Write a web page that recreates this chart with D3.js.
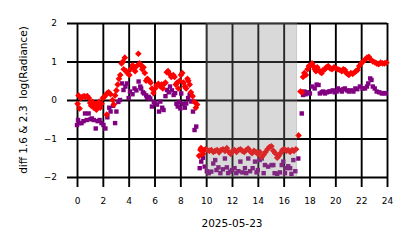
<!DOCTYPE html>
<html>
<head>
<meta charset="utf-8">
<script src="https://cdn.jsdelivr.net/npm/d3@7"></script>
<style>
  body { margin: 0; background: #fff; }
  text { font-family: "DejaVu Sans", sans-serif; }
</style>
</head>
<body>
<div id="chart"></div>
<script>
const xTicks = [0, 2, 4, 6, 8, 10, 12, 14, 16, 18, 20, 22, 24];
const yTicks = [-2, -1, 0, 1, 2];
const dateLabel = "2025-05-23";
const yLabel = "diff 1.6 & 2.3  log(Radiance)";
const shadeSpan = [10, 17];

// red diamonds: hour of day, value
const redHour = [0.05,0.12,0.2,0.3,0.42,0.55,0.68,0.8,0.92,1.02,1.1,1.2,1.3,1.4,1.5,1.6,1.7,1.8,1.9,2.0,2.1,2.2,2.3,2.35,2.45,2.6,2.75,2.85,2.95,3.05,3.15,3.25,3.35,3.45,3.55,3.62,3.7,3.8,3.9,4.05,4.15,4.3,4.4,4.5,4.62,4.75,4.85,4.95,5.05,5.15,5.25,5.35,5.45,5.6,5.7,5.8,5.92,6.05,6.15,6.3,6.45,6.55,6.65,6.75,6.85,6.95,7.05,7.15,7.3,7.45,7.55,7.65,7.75,7.85,7.95,8.05,8.15,8.25,8.35,8.45,8.55,8.62,8.72,8.82,8.95,9.1,9.2,9.3,9.45,9.55,9.6,9.75,9.85,9.95,10.1,10.25,10.4,10.55,10.7,10.85,11.0,11.15,11.3,11.45,11.6,11.75,11.9,12.05,12.2,12.35,12.5,12.65,12.8,12.95,13.1,13.25,13.4,13.55,13.7,13.85,14.0,14.15,14.3,14.45,14.6,14.75,14.9,15.05,15.2,15.35,15.5,15.62,15.75,15.9,16.05,16.2,16.35,16.5,16.65,16.8,16.95,17.15,17.3,17.42,17.5,17.6,17.72,17.85,17.95,18.1,18.2,18.3,18.4,18.5,18.6,18.72,18.85,18.95,19.05,19.2,19.3,19.45,19.6,19.75,19.9,20.05,20.2,20.35,20.5,20.62,20.75,20.85,20.95,21.05,21.2,21.35,21.5,21.6,21.72,21.85,22.0,22.15,22.3,22.45,22.6,22.75,22.9,23.05,23.2,23.35,23.5,23.65,23.8,23.95];
const redVal = [-0.1,0.12,-0.22,0.05,0.08,0.1,0.08,0.1,0.05,-0.08,-0.15,-0.05,-0.2,-0.1,-0.25,-0.15,-0.05,-0.2,-0.1,0.05,0.08,0.12,-0.38,0.18,0.2,0.15,0.0,-0.12,0.12,0.25,0.4,0.55,0.65,0.95,1.0,0.8,1.1,0.75,0.7,0.65,0.8,0.9,0.85,0.75,0.88,1.2,0.95,0.9,0.8,0.85,0.7,0.5,0.55,0.5,0.45,0.3,0.18,0.3,0.38,0.42,0.35,0.4,0.3,0.42,0.45,0.72,0.75,0.68,0.6,0.65,0.6,0.4,0.45,0.3,0.5,0.65,0.7,0.45,0.35,0.3,0.55,0.5,0.4,0.2,0.1,-0.05,-0.2,-0.12,-1.45,-1.3,-1.25,-1.4,-1.3,-1.28,-1.3,-1.32,-1.3,-1.35,-1.32,-1.3,-1.36,-1.3,-1.28,-1.32,-1.25,-1.35,-1.4,-1.32,-1.3,-1.35,-1.3,-1.28,-1.32,-1.35,-1.3,-1.26,-1.33,-1.38,-1.32,-1.35,-1.4,-1.35,-1.48,-1.42,-1.35,-1.28,-1.22,-1.2,-1.32,-1.38,-1.5,-1.45,-1.38,-1.3,-1.28,-1.32,-1.3,-1.35,-1.3,-1.32,-1.28,-0.92,0.22,0.2,0.6,0.7,0.65,0.8,0.88,0.9,0.95,0.88,0.8,0.75,0.85,0.78,0.72,0.7,0.78,0.8,0.85,0.88,0.82,0.8,0.85,0.82,0.8,0.78,0.75,0.8,0.78,0.7,0.68,0.65,0.7,0.68,0.72,0.75,0.78,0.88,0.95,1.0,1.05,1.1,1.12,1.05,1.0,0.98,0.95,0.93,0.97,0.95,0.95,0.97];

// purple squares: hour of day, value
const purpleHour = [0.0,0.08,0.2,0.35,0.5,0.62,0.75,0.9,1.05,1.15,1.3,1.45,1.6,1.75,1.9,2.05,2.2,2.35,2.5,2.6,2.8,2.95,3.05,3.2,3.33,3.48,3.6,3.75,3.87,4.0,4.1,4.3,4.45,4.6,4.77,4.9,4.97,5.1,5.2,5.35,5.42,5.55,5.67,5.8,5.95,6.06,6.2,6.35,6.45,6.6,6.7,6.85,6.97,7.1,7.2,7.35,7.48,7.6,7.7,7.8,7.9,8.0,8.07,8.2,8.35,8.46,8.6,8.72,8.85,8.98,9.1,9.23,9.5,9.62,9.75,9.88,10.05,10.2,10.4,10.55,10.7,10.8,10.95,11.1,11.3,11.45,11.6,11.7,11.85,12.0,12.2,12.33,12.5,12.65,12.8,13.0,13.1,13.26,13.4,13.6,13.78,13.9,14.0,14.14,14.3,14.45,14.55,14.8,15.07,15.2,15.3,15.5,15.7,15.85,15.97,16.1,16.2,16.35,16.5,16.6,16.75,16.9,17.13,17.4,17.5,17.6,17.7,17.85,18.03,18.2,18.4,18.55,18.7,18.8,18.95,19.05,19.2,19.35,19.5,19.6,19.8,19.95,20.1,20.2,20.35,20.5,20.62,20.74,20.9,21.05,21.2,21.4,21.55,21.7,21.9,22.1,22.3,22.45,22.55,22.7,22.8,22.9,23.05,23.2,23.4,23.6,23.75,23.9];
const purpleVal = [-0.65,-0.52,-0.6,-0.6,-0.55,-0.35,-0.52,-0.35,-0.5,-0.48,-0.52,-0.74,-0.55,-0.52,-0.6,-0.65,-0.74,-0.45,-0.2,-0.3,-0.15,-0.6,-0.3,-0.05,0.0,0.43,0.26,0.35,0.43,0.05,0.22,0.15,0.3,0.25,0.48,0.35,0.3,0.2,0.17,0.12,0.05,0.08,0.04,-0.17,-0.05,-0.09,-0.12,-0.3,-0.04,-0.2,-0.26,0.1,0.26,0.2,0.35,0.25,0.13,0.18,-0.1,-0.17,-0.05,-0.22,0.17,-0.1,-0.2,-0.09,0.05,0.13,-0.04,-0.3,-0.78,-0.69,-1.77,-1.6,-1.5,-1.73,-1.85,-1.9,-1.86,-1.65,-1.56,-1.82,-1.75,-1.9,-1.8,-1.52,-1.75,-1.9,-1.86,-1.82,-1.77,-1.9,-1.85,-1.6,-1.88,-1.77,-1.9,-1.52,-1.85,-1.77,-1.6,-1.88,-1.82,-1.56,-1.52,-1.9,-1.69,-1.73,-1.69,-1.69,-1.9,-1.92,-1.88,-1.69,-1.6,-1.9,-1.77,-1.72,-1.77,-1.92,-1.56,-1.85,-1.52,-0.35,0.13,0.22,0.15,0.2,0.17,0.35,0.3,0.4,0.39,0.17,0.2,0.22,0.17,0.2,0.22,0.22,0.25,0.2,0.22,0.3,0.26,0.22,0.28,0.3,0.25,0.22,0.25,0.22,0.3,0.28,0.35,0.3,0.3,0.35,0.43,0.56,0.52,0.35,0.3,0.22,0.2,0.17,0.18,0.17];

const W = 414, H = 248;
const margin = { top: 23, right: 27, bottom: 71, left: 77 };
const width = W - margin.left - margin.right;
const height = H - margin.top - margin.bottom;

const svgRoot = d3.select("#chart").append("svg")
  .attr("width", W)
  .attr("height", H);

const svg = svgRoot.append("g")
  .attr("transform", `translate(${margin.left},${margin.top})`);

const x = d3.scaleLinear().domain([0, 24]).range([0, width]);
const y = d3.scaleLinear().domain([-2, 2]).range([height, 0]);

// grid + ticks, black, ticks stick out 10px like the reference
const xAxis = svg.append("g")
  .attr("transform", `translate(0,${height})`)
  .call(d3.axisBottom(x).tickValues(xTicks).tickSize(10).tickFormat(d3.format("d")));
xAxis.selectAll("line").attr("y1", -height).attr("y2", 10);
xAxis.selectAll("text").attr("y", 27).attr("dy", 0);

const yAxis = svg.append("g")
  .call(d3.axisLeft(y).tickValues(yTicks).tickSize(10).tickPadding(10)
    .tickFormat(d => d < 0 ? "\u2212" + Math.abs(d) : d));
yAxis.selectAll("line").attr("x1", -10).attr("x2", width);

[xAxis, yAxis].forEach(a => {
  a.select(".domain").remove();
  a.selectAll("line").attr("stroke", "#000").attr("stroke-width", 1.9);
  a.selectAll("text").attr("font-family", "DejaVu Sans").attr("font-size", 9).attr("fill", "#000");
});

const red = redHour.map((h, i) => ({ h, v: redVal[i] }));
const purple = purpleHour.map((h, i) => ({ h, v: purpleVal[i] }));

svg.append("g").selectAll("rect")
  .data(purple)
  .join("rect")
  .attr("x", d => x(d.h) - 2.2)
  .attr("y", d => y(d.v) - 2.2)
  .attr("width", 4.4)
  .attr("height", 4.4)
  .attr("fill", "#800080");

const diamond = d3.symbol().type(d3.symbolDiamond2).size(28);
svg.append("g").selectAll("path")
  .data(red)
  .join("path")
  .attr("d", diamond)
  .attr("transform", d => `translate(${x(d.h)},${y(d.v)})`)
  .attr("fill", "#ff0000");

// shaded period, drawn over the points like the reference
svg.append("rect")
  .attr("x", x(shadeSpan[0]))
  .attr("y", 0)
  .attr("width", x(shadeSpan[1]) - x(shadeSpan[0]))
  .attr("height", height)
  .attr("fill", "#808080")
  .attr("fill-opacity", 0.3)
  .attr("stroke", "#808080")
  .attr("stroke-opacity", 0.3);

svgRoot.append("text")
  .attr("x", margin.left + width / 2)
  .attr("y", 227)
  .attr("text-anchor", "middle")
  .attr("font-size", 10.5)
  .text(dateLabel);

svgRoot.append("text")
  .attr("transform", `translate(27,${margin.top + height / 2}) rotate(-90)`)
  .attr("text-anchor", "middle")
  .attr("font-size", 10.5)
  .style("white-space", "pre")
  .text(yLabel);
</script>
</body>
</html>
